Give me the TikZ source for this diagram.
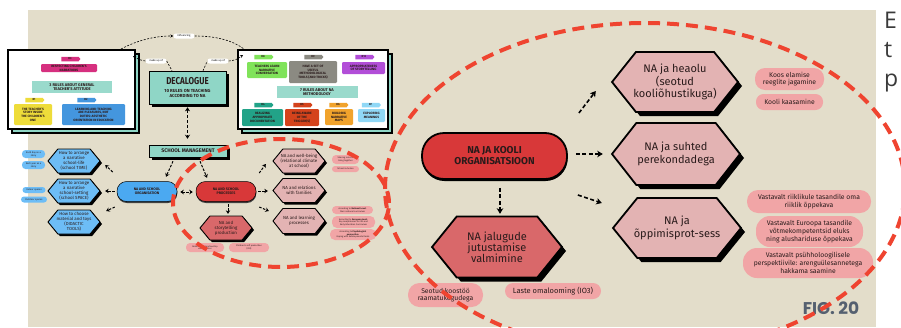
\documentclass[tikz,border=0pt]{standalone}
\usepackage{fontspec}
\setmainfont{Fira Sans}
\newfontfamily\figfont{Poppins}
\newfontfamily\sidefont{Open Sans}
\usetikzlibrary{calc,arrows.meta,shapes.misc,shapes.symbols,shadows}
\newcommand\myfs[2]{\fontsize{#1}{#2}\selectfont}
\definecolor{bgbeige}{HTML}{E3DDCA}
\definecolor{ellred}{HTML}{EF4430}
\definecolor{hexpink}{HTML}{E3B3B3}
\definecolor{hexred}{HTML}{D9686A}
\definecolor{pillpink}{HTML}{F1A5A6}
\definecolor{procred}{HTML}{D83839}
\definecolor{orgblue}{HTML}{4BA9F1}
\definecolor{hexblue}{HTML}{6DBDF6}
\definecolor{mint}{HTML}{8FD6C6}
\definecolor{rmag}{HTML}{D6307F}
\definecolor{ryellow}{HTML}{EEDC3A}
\definecolor{rblue}{HTML}{4496DE}
\definecolor{rgreen}{HTML}{80E35A}
\definecolor{rgray}{HTML}{8B8A82}
\definecolor{rpurple}{HTML}{B24ED8}
\definecolor{rteal}{HTML}{22A388}
\definecolor{rred}{HTML}{D4431C}
\definecolor{rorange}{HTML}{F1A32C}
\definecolor{rlblue}{HTML}{90D8F6}
\definecolor{txtdark}{HTML}{2A1B1B}
\definecolor{figgray}{HTML}{556070}
\definecolor{sidegray}{HTML}{3A3A3A}
\newcommand\hexnode[9]{%
  \pgfmathsetmacro\hxl{#2-#4/2}%
  \pgfmathsetmacro\hxr{#2+#4/2}%
  \pgfmathsetmacro\hxa{#2-#4/2+0.19*#4}%
  \pgfmathsetmacro\hxb{#2+#4/2-0.19*#4}%
  \pgfmathsetmacro\hyt{#3-#5/2}%
  \pgfmathsetmacro\hyb{#3+#5/2}%
  \pgfmathsetmacro\hlw{0.45*#7}%
  \fill[black,shift={(#7,#7)}] (\hxl,#3) -- (\hxa,\hyt) -- (\hxb,\hyt) -- (\hxr,#3) -- (\hxb,\hyb) -- (\hxa,\hyb) -- cycle;
  \filldraw[fill=#6,draw=black,line width=\hlw pt] (\hxl,#3) -- (\hxa,\hyt) -- (\hxb,\hyt) -- (\hxr,#3) -- (\hxb,\hyb) -- (\hxa,\hyb) -- cycle;
  \node[inner sep=0pt,minimum width=#4,minimum height=#5,align=center,text=txtdark,font={#8}] (#1) at (#2,#3) {#9};
}
\begin{document}
\begin{tikzpicture}[x=1pt,y=-1pt,
  pill/.style={fill=pillpink, rounded corners=#1, inner sep=0pt, align=center, text=txtdark},
  rbox/.style={fill=#1, rounded corners=1.2pt, inner sep=0pt, align=center, text=txtdark, font=\bfseries\myfs{3.2}{3.7}},
  tag/.style={signal, signal to=east, signal pointer angle=100, fill=#1, minimum width=19pt, minimum height=4.5pt, inner sep=0pt, text=txtdark, font=\bfseries\myfs{2.8}{3}},
  banner/.style={fill=mint!90!white, inner sep=0pt, align=center, text=txtdark, font=\bfseries\myfs{4}{4.6}},
  bigarr/.style={line width=1.6pt, dash pattern=on 4pt off 2.5pt, -{Stealth[length=5.5pt,width=6.5pt,inset=1.5pt]}},
  smarr/.style={line width=1pt, dash pattern=on 2.5pt off 1.5pt, -{Stealth[length=3.5pt,width=4.5pt]}},
  smdarr/.style={smarr, {Stealth[length=3.5pt,width=4.5pt]}-{Stealth[length=3.5pt,width=4.5pt]}},
  thinconn/.style={line width=0.6pt, dash pattern=on 2pt off 1.5pt},
  redell/.style={draw=ellred, line width=4pt, dash pattern=on 12pt off 7pt},
  tinylab/.style={fill=white, rounded corners=2.4pt, inner sep=0pt, minimum width=21pt, minimum height=5pt, font=\myfs{2.6}{3}},
  shad/.style={drop shadow={shadow xshift=2.5pt, shadow yshift=-2.5pt, fill=black, opacity=1}},
  pshad/.style={drop shadow={shadow xshift=0.3pt, shadow yshift=-1.5pt, fill=black!75, opacity=1}}
]
\useasboundingbox (0,0) rectangle (901,327);
\fill[white] (0,0) rectangle (901,327);
\fill[bgbeige] (28,10) rectangle (876,327);

% ---------- top frames ----------
\draw[fill=mint, line width=1.2pt] (12,54) rectangle (139,133);
\node[draw, line width=2pt, fill=white, minimum width=127, minimum height=79, inner sep=0pt] (box1) at (71.5,89.5) {};
\draw[fill=mint, line width=1.2pt] (242,54) rectangle (392,133);
\node[draw, line width=2pt, fill=white, minimum width=150, minimum height=79, inner sep=0pt] (box2) at (313,89.5) {};

\node[tag=rmag] (t3) at (70,59) {R3};
\node[rbox=rmag, minimum width=56, minimum height=8] (r3) at (69,68) {RESPECTING CHILDREN'S\\NARRATIONS};
\node[banner, minimum width=80, minimum height=12] (ban1) at (72,87) {3 RULES ABOUT GENERAL\\TEACHER'S ATTITUDE};
\node[tag=ryellow] (t1) at (34,100) {R1};
\node[rbox=ryellow, minimum width=38, minimum height=21] (r1) at (33,114.5) {THE TEACHER'S\\STORY INSIDE\\THE CHILDREN'S\\ONE};
\node[tag=rblue] (t2) at (86,100) {R2};
\node[rbox=rblue, minimum width=63, minimum height=21] (r2) at (93.5,114.5) {LEARNING AND TEACHING\\ARE PLEASURES, NOT\\DUTIES: AESTHETIC\\ORIENTATION IN EDUCATION};

\node[tag=rgreen] (t8) at (263,57) {R8};
\node[rbox=rgreen, minimum width=40, minimum height=16] (r8) at (267,70) {TEACHERS LEARN\\NARRATIVE\\CONVERSATION};
\node[tag=rgray] (t9) at (313,57) {R9};
\node[rbox=rgray, minimum width=48, minimum height=22] (r9) at (313,72) {HAVE A SET OF\\USEFUL\\METHODOLOGICAL\\TOOLS (AND TRICKS)};
\node[tag=rpurple] (t10) at (364,57) {R10};
\node[rbox=rpurple, minimum width=43, minimum height=12] (r10) at (363.5,68) {APPROPRIATENESS\\OF STORYTELLING};
\node[banner, minimum width=81, minimum height=12] (ban2) at (317,92) {7 RULES ABOUT NA\\METHODOLOGY};
\node[tag=rteal] (t4) at (263,105) {R4};
\node[tag=rred] (t5) at (302,105) {R5};
\node[tag=rorange] (t6) at (338,105) {R6};
\node[tag=rlblue] (t7) at (370.5,105) {R7};
\node[rbox=rteal, minimum width=41, minimum height=17] (r4) at (262.5,117.5) {REALIZING\\APPROPRIATE\\DOCUMENTATION};
\node[rbox=rred, minimum width=34, minimum height=17] (r5) at (302,117.5) {BEING AWARE\\OF THE\\TRIGGER(S)};
\node[rbox=rorange, minimum width=28, minimum height=16] (r6) at (339,117) {BUILDING\\NARRATIVE\\MAPS};
\node[rbox=rlblue, minimum width=27, minimum height=13] (r7) at (371.5,115.5) {EXPLORING\\MEANINGS};

% ---------- decalogue ----------
\node[fill=mint, draw=black, line width=0.6pt, minimum width=77, minimum height=33, inner sep=0pt, shad, align=center, text=txtdark, font=\bfseries\myfs{4.4}{5}] (deca) at (187.5,87.5) {{\myfs{10}{10}\scalebox{0.8}[1]{DECALOGUE}}\\[3pt]10 RULES ON TEACHING\\ACCORDING TO NA};
\node[tinylab] (infl) at (184,36) {influencing};
\node[tinylab] (mu1) at (156,61) {made up of};
\node[tinylab] (mu2) at (218,61) {made up of};

\draw[thinconn, -{Stealth[length=3pt,width=3pt]}] ($(box1.north east)+(-15,0)$) .. controls (138,40) and (155,36) .. (infl.west);
\draw[thinconn] (infl.east) .. controls (215,36) and (232,40) .. ($(box2.north west)+(7,0)$);
\draw[thinconn, -{Stealth[length=3pt,width=3pt]}] (mu1.west) .. controls (140,60) .. ($(box1.north east)+(-3,7)$);
\draw[thinconn] (mu1.east) -- ($(deca.north)+(-15.5,0)$);
\draw[thinconn] ($(deca.north)+(15.5,0)$) -- (mu2.west);
\draw[thinconn, -{Stealth[length=3pt,width=3pt]}] (mu2.east) .. controls (236,60) .. ($(box2.north west)+(6,6)$);

% ---------- school management part ----------
\node[fill=mint, draw=black, line width=0.5pt, minimum width=78, minimum height=12, inner sep=0pt, shad, text=txtdark, font=\bfseries\myfs{5.2}{6}] (sm) at (188,151) {SCHOOL MANAGEMENT};
\draw[line width=1.5pt, dash pattern=on 3pt off 2pt, {Stealth[length=4pt,width=5pt]}-{Stealth[length=4pt,width=5pt]}] ($(deca.south)+(0,3)$) -- ($(sm.north)+(-0.5,-6)$);

\node[fill=orgblue, draw=black, line width=0.5pt, rounded corners=9.5pt, minimum width=60, minimum height=20, inner sep=0pt, align=center, text=txtdark, font=\bfseries\myfs{3.6}{4.2}, pshad] (org) at (147,191.5) {NA AND SCHOOL\\ORGANISATION};
\node[fill=procred, draw=black, line width=0.5pt, rounded corners=9.5pt, minimum width=60, minimum height=20, inner sep=0pt, align=center, text=txtdark, font=\bfseries\myfs{3.6}{4.2}, pshad] (proc) at (226,191.5) {NA AND SCHOOL\\PROCESSES};

\hexnode{h1}{74}{161}{52}{24}{hexblue}{2}{\myfs{4.4}{5}}{How to arrange\\a narrative\\school-life\\(school TIME)}
\hexnode{h2}{74}{191}{52}{24}{hexblue}{2}{\myfs{4.4}{5}}{How to arrange\\a narrative\\school-setting\\(school SPACE)}
\hexnode{h3}{74}{222}{52}{24}{hexblue}{2}{\myfs{4.4}{5}}{How to choose\\material and toys\\(DIDACTIC\\TOOLS)}
\node[pill=3.5pt, fill=hexblue, minimum width=23, minimum height=8, font=\myfs{2.4}{2.8}] (bp1) at (33.5,154) {Each day as a\\story};
\node[pill=3.5pt, fill=hexblue, minimum width=23, minimum height=8, font=\myfs{2.4}{2.8}] (bp2) at (33.5,165) {Each year as a\\story};
\node[pill=3pt, fill=hexblue, minimum width=23, minimum height=6, font=\myfs{2.4}{2.8}] (bp3) at (34,190) {Indoor spaces};
\node[pill=3pt, fill=hexblue, minimum width=26, minimum height=6, font=\myfs{2.4}{2.8}] (bp4) at (34,199.5) {Outdoor spaces};

\hexnode{well}{299}{161}{52}{24}{hexpink}{2}{\myfs{4.4}{5}}{NA and well-being\\(relational climate\\at school)}
\hexnode{rel}{299}{190.5}{52}{24}{hexpink}{2}{\myfs{4.4}{5}}{NA and relations\\with families}
\hexnode{learn}{299}{221}{52}{25}{hexpink}{2}{\myfs{4.4}{5}}{NA and learning\\processes}
\hexnode{story}{226}{228}{52}{24}{hexred}{2}{\myfs{4.4}{5}}{NA and\\storytelling\\production}

\node[pill=4pt, minimum width=27, minimum height=9, font=\myfs{2.2}{2.6}] (pw1) at (345.5,159.5) {Sharing rules of\\living together};
\node[pill=3pt, minimum width=27, minimum height=6, font=\myfs{2.2}{2.6}] (pw2) at (345.5,169) {School inclusion};
\node[pill=4pt, minimum width=41, minimum height=8, font=\myfs{2.2}{2.6}] (pl1) at (352.5,210) {According to \textbf{National Level}:\\their national curriculum};
\node[pill=5pt, minimum width=43, minimum height=12, font=\myfs{2.2}{2.6}] (pl2) at (353.5,222) {According to \textbf{European Level}:\\Key competences for life and\\Early Education Curriculum};
\node[pill=5pt, minimum width=46, minimum height=11, font=\myfs{2.2}{2.6}] (pl3) at (353,234.5) {According to \textbf{Psychological}\\\textbf{perspective}:\\Coping with developmental tasks};
\node[pill=4pt, minimum width=38, minimum height=9, font=\myfs{2.2}{2.6}] (ps1) at (205,247.5) {Relationship/partnership\\with libraries};
\node[pill=4pt, minimum width=40, minimum height=9, font=\myfs{2.2}{2.6}] (ps2) at (249,247.5) {Children's self production\\(IO3)};

\draw[smarr] ($(sm.south)+(-15,4)$) -- ($(org.north)+(19,-4.5)$);
\draw[smarr] ($(sm.south)+(12,4)$) -- ($(proc.north)+(-19,-3.5)$);
\draw[smdarr] ($(org.east)+(3,0.5)$) -- ($(proc.west)+(-3,0.5)$);
\draw[smarr] ($(proc.south)+(2,2.5)$) -- ($(story.north)+(2,-2)$);
\draw[smarr] ($(proc.east)+(3,-18.5)$) -- ($(well.west)+(-7,3)$);
\draw[smarr] ($(proc.east)+(2,-0.5)$) -- ($(rel.west)+(-5,0.5)$);
\draw[smarr] ($(proc.east)+(3,15.5)$) -- ($(learn.west)+(-4,-10)$);
\draw[smarr] ($(org.west)+(-4,-19.5)$) -- ($(h1.east)+(5,4)$);
\draw[smarr] ($(org.west)+(-2,-0.5)$) -- ($(h2.east)+(5,0)$);
\draw[smarr] ($(org.west)+(-2,15.5)$) -- ($(h3.east)+(6,-11)$);

% ---------- enlarged part ----------
\node[fill=procred, draw=black, line width=1.8pt, rounded corners=22pt, minimum width=145, minimum height=46, inner sep=0pt, align=center, text=txtdark, font=\bfseries\myfs{10}{11}, drop shadow={shadow xshift=0.5pt, shadow yshift=-2pt, fill=black, opacity=1}] (bigorg) at (494.5,156) {NA JA KOOLI\\ORGANISATSIOON};

\hexnode{heaolu}{675}{82}{126}{60}{hexpink}{4}{\myfs{11}{12.5}}{NA ja heaolu\\(seotud\\kooliõhustikuga)}
\hexnode{suhted}{676}{154}{128}{62}{hexpink}{4}{\myfs{11}{12.5}}{NA ja suhted\\perekondadega}
\hexnode{oppimis}{677}{228}{128}{60}{hexpink}{4}{\myfs{11}{12.5}}{NA ja\\õppimisprot-sess}
\hexnode{jalug}{497}{247}{130}{61}{hexred}{4}{\myfs{11}{11}}{NA jalugude\\jutustamise\\valmimine}

\draw[bigarr] ($(bigorg.east)+(11,-43)$) -- ($(heaolu.west)+(-16,9)$);
\draw[bigarr] ($(bigorg.east)+(8,-2)$) -- ($(suhted.west)+(-9,0)$);
\draw[bigarr] ($(bigorg.east)+(10,39)$) -- ($(oppimis.west)+(-11,-25)$);
\draw[bigarr] ($(bigorg.south)+(5.5,8)$) -- ($(jalug.north)+(3,-2.5)$);

\node[pill=10pt, minimum width=69, minimum height=22, font=\myfs{6.8}{7.8}] (pk1) at (789.5,79) {Koos elamise\\reeglite jagamine};
\node[pill=7.5pt, minimum width=67, minimum height=16, font=\myfs{6.8}{7.8}] (pk2) at (789.5,102) {Kooli kaasamine};
\node[pill=11pt, minimum width=124, minimum height=23, font=\myfs{6.8}{7.8}] (pv1) at (809,201.5) {Vastavalt riiklikule tasandile oma\\riiklik õppekava};
\node[pill=14pt, minimum width=107, minimum height=31, font=\myfs{6.8}{7.8}] (pv2) at (809.5,231.5) {Vastavalt Euroopa tasandile\\võtmekompetentsid eluks\\ning alushariduse õppekava};
\node[pill=14pt, minimum width=130, minimum height=30, font=\myfs{6.8}{7.8}] (pv3) at (808,263) {Vastavalt psühholoogilisele\\perspektiivile: arenguülesannetega\\hakkama saamine};
\node[pill=11.5pt, minimum width=75, minimum height=24, font=\myfs{6.8}{7.5}] (ps3) at (445.5,295) {Seotud koostöö\\raamatukogudega};
\node[pill=8pt, minimum width=96, minimum height=16, font=\myfs{7.5}{8.5}] (ps4) at (553,291) {Laste omalooming (IO3)};

\node[text=figgray, font=\figfont\bfseries\myfs{17}{18}, inner sep=0pt] (fig) at (831,308.5) {FIG. 20};

\node[text=sidegray, font=\sidefont\myfs{23}{27}, inner sep=0pt, anchor=base west] (sideE) at (884,28) {E};
\node[text=sidegray, font=\sidefont\myfs{23}{27}, inner sep=0pt, anchor=base west] (sideT) at (884,57) {t};
\node[text=sidegray, font=\sidefont\myfs{23}{27}, inner sep=0pt, anchor=base west] (sideP) at (884,86) {p};

% ---------- red dashed ellipses ----------
\draw[redell] (281,203) ellipse [x radius=108pt, y radius=64pt];
\draw[redell] (645,188) ellipse [x radius=260pt, y radius=165pt];
\end{tikzpicture}
\end{document}
